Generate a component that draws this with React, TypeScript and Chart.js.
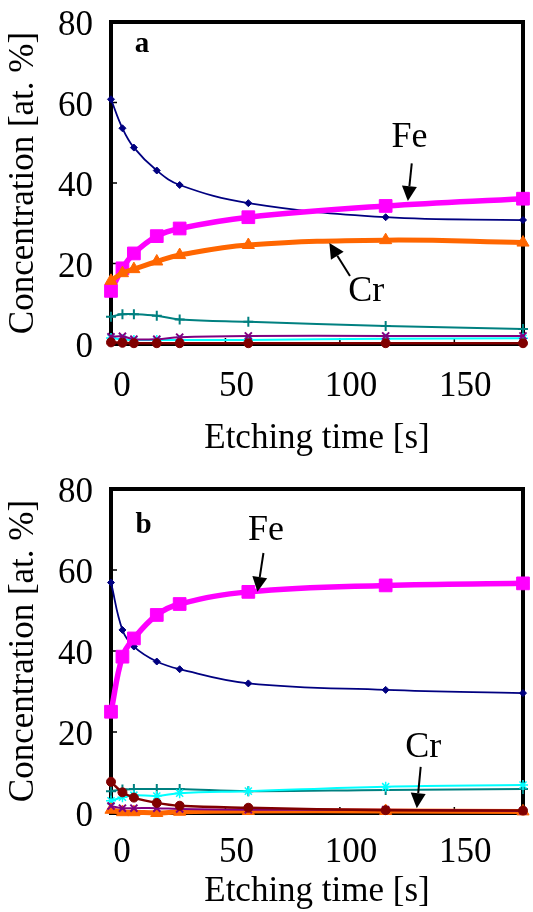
import React, { useEffect, useRef } from 'react';
import { Chart, registerables } from 'chart.js';

Chart.register(...registerables);

// ---- data ----
const times = [0, 5, 10, 20, 30, 60, 120, 180];
const xTicks = [0, 50, 100, 150];
const yTicks = [0, 20, 40, 60, 80];
const xTitle = 'Etching time [s]';
const yTitle = 'Concentration [at. %]';

// panel a
const aNavy = [60.8, 53.6, 48.8, 43.1, 39.5, 35.0, 31.5, 30.8];
const aFe = [13.2, 18.8, 22.5, 26.8, 28.7, 31.5, 34.3, 36.1];
const aCr = [15.7, 17.6, 18.6, 20.5, 22.1, 24.6, 25.8, 25.2];
const aTeal = [6.8, 7.4, 7.4, 7.0, 6.1, 5.5, 4.5, 3.7];
const aPurple = [1.8, 1.9, 1.2, 1.2, 1.7, 2.0, 2.0, 2.0];
const aCyan = [1.5, 1.2, 1.0, 1.0, 1.0, 1.0, 1.3, 1.4];
const aDarkRed = [0.4, 0.3, 0.2, 0.2, 0.2, 0.2, 0.2, 0.2];

// panel b
const bNavy = [56.9, 45.2, 41.1, 37.4, 35.5, 32.0, 30.4, 29.6];
const bFe = [25.0, 38.6, 43.1, 48.9, 51.6, 54.6, 56.2, 56.7];
const bCr = [0.8, 0.2, 0.2, 0.0, 0.3, 0.5, 0.5, 0.4];
const bTeal = [5.4, 5.8, 5.9, 5.9, 5.9, 5.4, 5.7, 5.9];
const bCyan = [3.0, 3.9, 4.4, 4.2, 4.9, 5.4, 6.5, 6.9];
const bPurple = [1.7, 1.2, 1.2, 1.2, 1.0, 0.8, 0.8, 0.5];
const bDarkRed = [7.7, 5.1, 3.8, 2.5, 1.8, 1.3, 0.7, 0.6];

// annotations (data coordinates)
const aAnnot = {
  panel: { text: 'a', t: 13.5, v: 72.5 },
  texts: [
    { text: 'Fe', t: 130.4, v: 48.9 },
    { text: 'Cr', t: 111.5, v: 10.7 },
  ],
  arrows: [
    { t1: 131.4, v1: 44.9, t2: 129.7, v2: 35.5 },
    { t1: 104.4, v1: 16.9, t2: 95.4, v2: 25.1 },
  ],
};
const bAnnot = {
  panel: { text: 'b', t: 14.2, v: 69.1 },
  texts: [
    { text: 'Fe', t: 67.7, v: 67.4 },
    { text: 'Cr', t: 136.4, v: 13.8 },
  ],
  arrows: [
    { t1: 66.6, v1: 64.2, t2: 64.0, v2: 54.6 },
    { t1: 135.3, v1: 11.4, t2: 133.6, v2: 1.2 },
  ],
};

const FONT = '"Liberation Serif", "Times New Roman", serif';

const COLORS = {
  navy: '#000080',
  fe: '#FF00FF',
  cr: '#FF6600',
  teal: '#008080',
  purple: '#800080',
  cyan: '#00FFFF',
  darkred: '#800000',
};

function ds(label: string, values: number[], color: string, style: string, radius: number, lw: number, pbw: number) {
  return {
    label,
    data: times.map((t, i) => ({ x: t, y: values[i] })),
    borderColor: color,
    backgroundColor: color,
    pointBackgroundColor: color,
    pointBorderColor: color,
    borderWidth: lw,
    pointStyle: style,
    pointRadius: radius,
    pointBorderWidth: pbw,
    tension: 0.4,
    clip: false,
    fill: false,
  };
}

function makeDatasets(s: any) {
  // first dataset is drawn on top
  return [
    ds('darkred', s.darkred, COLORS.darkred, 'circle', 4.5, 2.5, 1),
    ds('purple', s.purple, COLORS.purple, 'crossRot', 5, 2, 2),
    ds('Cr', s.cr, COLORS.cr, 'triangle', 7, 5, 1),
    ds('Fe', s.fe, COLORS.fe, 'rect', 9, 5.5, 1),
    ds('cyan', s.cyan, COLORS.cyan, 'star', 5, 2, 1.5),
    ds('teal', s.teal, COLORS.teal, 'cross', 5, 2, 2),
    ds('navy', s.navy, COLORS.navy, 'rectRot', 3.5, 1.8, 1),
  ];
}

const framePlugin = {
  id: 'frame',
  beforeDatasetsDraw(chart: any) {
    const { ctx, chartArea: a, scales } = chart;
    const x = scales.x, y = scales.y;
    ctx.save();
    ctx.strokeStyle = '#000';
    ctx.lineWidth = 4;
    ctx.strokeRect(a.left, a.top, a.right - a.left, a.bottom - a.top);
    ctx.lineWidth = 1.5;
    ctx.beginPath();
    for (const t of xTicks) {
      if (t === 0) continue;
      const px = x.getPixelForValue(t);
      ctx.moveTo(px, a.bottom);
      ctx.lineTo(px, a.bottom - 6);
    }
    for (const v of yTicks) {
      if (v === 0 || v === 80) continue;
      const py = y.getPixelForValue(v);
      ctx.moveTo(a.left, py);
      ctx.lineTo(a.left + 6, py);
    }
    ctx.stroke();
    ctx.restore();
  },
};

function makeAnnotPlugin(ann: any) {
  return {
    id: 'annot',
    afterDatasetsDraw(chart: any) {
      const { ctx, scales } = chart;
      const x = scales.x, y = scales.y;
      ctx.save();
      ctx.fillStyle = '#000';
      ctx.strokeStyle = '#000';
      ctx.textAlign = 'center';
      ctx.textBaseline = 'alphabetic';
      ctx.font = `bold 29px ${FONT}`;
      ctx.fillText(ann.panel.text, x.getPixelForValue(ann.panel.t), y.getPixelForValue(ann.panel.v));
      ctx.font = `36px ${FONT}`;
      for (const tx of ann.texts) {
        ctx.fillText(tx.text, x.getPixelForValue(tx.t), y.getPixelForValue(tx.v));
      }
      for (const ar of ann.arrows) {
        const x1 = x.getPixelForValue(ar.t1), y1 = y.getPixelForValue(ar.v1);
        const x2 = x.getPixelForValue(ar.t2), y2 = y.getPixelForValue(ar.v2);
        const ang = Math.atan2(y2 - y1, x2 - x1);
        const hl = 15, hw = 7.5;
        const bx = x2 - hl * Math.cos(ang), by = y2 - hl * Math.sin(ang);
        ctx.lineWidth = 2;
        ctx.beginPath();
        ctx.moveTo(x1, y1);
        ctx.lineTo(bx, by);
        ctx.stroke();
        ctx.beginPath();
        ctx.moveTo(x2, y2);
        ctx.lineTo(bx + hw * Math.sin(ang), by - hw * Math.cos(ang));
        ctx.lineTo(bx - hw * Math.sin(ang), by + hw * Math.cos(ang));
        ctx.closePath();
        ctx.fill();
      }
      ctx.restore();
    },
  };
}

function buildConfig(p: any) {
  return {
    type: 'line',
    data: { datasets: makeDatasets(p.series) },
    options: {
      responsive: false,
      animation: false,
      events: [],
      layout: { padding: { left: 0, right: 3, top: p.padTop, bottom: 0 } },
      plugins: { legend: { display: false }, tooltip: { enabled: false } },
      scales: {
        x: {
          type: 'linear',
          min: 0,
          max: 180,
          afterBuildTicks: (s: any) => {
            s.ticks = xTicks.map((v) => ({ value: v }));
          },
          afterFit: (s: any) => {
            s.height = p.xHeight;
            s.paddingLeft = 0;
            s.paddingRight = 0;
            s.paddingTop = 0;
            s.paddingBottom = 0;
          },
          grid: { display: false, drawTicks: false },
          border: { display: false },
          ticks: {
            font: { family: FONT, size: 35 },
            color: '#000',
            padding: p.xTickPad,
            labelOffset: 11,
            maxRotation: 0,
            autoSkip: false,
          },
          title: {
            display: true,
            text: xTitle,
            color: '#000',
            font: { family: FONT, size: 35, lineHeight: 1 },
            padding: { top: 0, bottom: p.xTitlePad },
          },
        },
        y: {
          type: 'linear',
          min: 0,
          max: 80,
          afterBuildTicks: (s: any) => {
            s.ticks = yTicks.map((v) => ({ value: v }));
          },
          afterFit: (s: any) => {
            s.width = 111;
            s.paddingLeft = 0;
            s.paddingRight = 0;
            s.paddingTop = 0;
            s.paddingBottom = 0;
          },
          grid: { display: false, drawTicks: false },
          border: { display: false },
          ticks: {
            font: { family: FONT, size: 35 },
            color: '#000',
            padding: 18,
            labelOffset: 4,
          },
          title: {
            display: true,
            text: yTitle,
            color: '#000',
            font: { family: FONT, size: 35, lineHeight: 1 },
            padding: { top: 6.5, bottom: 0 },
          },
        },
      },
    },
    plugins: [framePlugin, makeAnnotPlugin(p.annot)],
  };
}

const panelA = {
  h: 460,
  padTop: 22,
  xHeight: 116,
  xTickPad: 22,
  xTitlePad: 4,
  series: { navy: aNavy, fe: aFe, cr: aCr, teal: aTeal, purple: aPurple, cyan: aCyan, darkred: aDarkRed },
  annot: aAnnot,
};
const panelB = {
  h: 452,
  padTop: 29,
  xHeight: 99,
  xTickPad: 19,
  xTitlePad: 3,
  series: { navy: bNavy, fe: bFe, cr: bCr, teal: bTeal, purple: bPurple, cyan: bCyan, darkred: bDarkRed },
  annot: bAnnot,
};

function Panel({ p }: { p: any }) {
  const ref = useRef<HTMLCanvasElement | null>(null);
  useEffect(() => {
    if (!ref.current) return;
    const chart = new Chart(ref.current, buildConfig(p) as any);
    return () => chart.destroy();
  }, [p]);
  return <canvas ref={ref} width={533} height={p.h} style={{ display: 'block', width: 533, height: p.h }} />;
}

export default function App() {
  useEffect(() => {
    document.body.style.margin = '0';
  }, []);
  return (
    <div style={{ width: 533, height: 912, background: '#fff' }}>
      <Panel p={panelA} />
      <Panel p={panelB} />
    </div>
  );
}
